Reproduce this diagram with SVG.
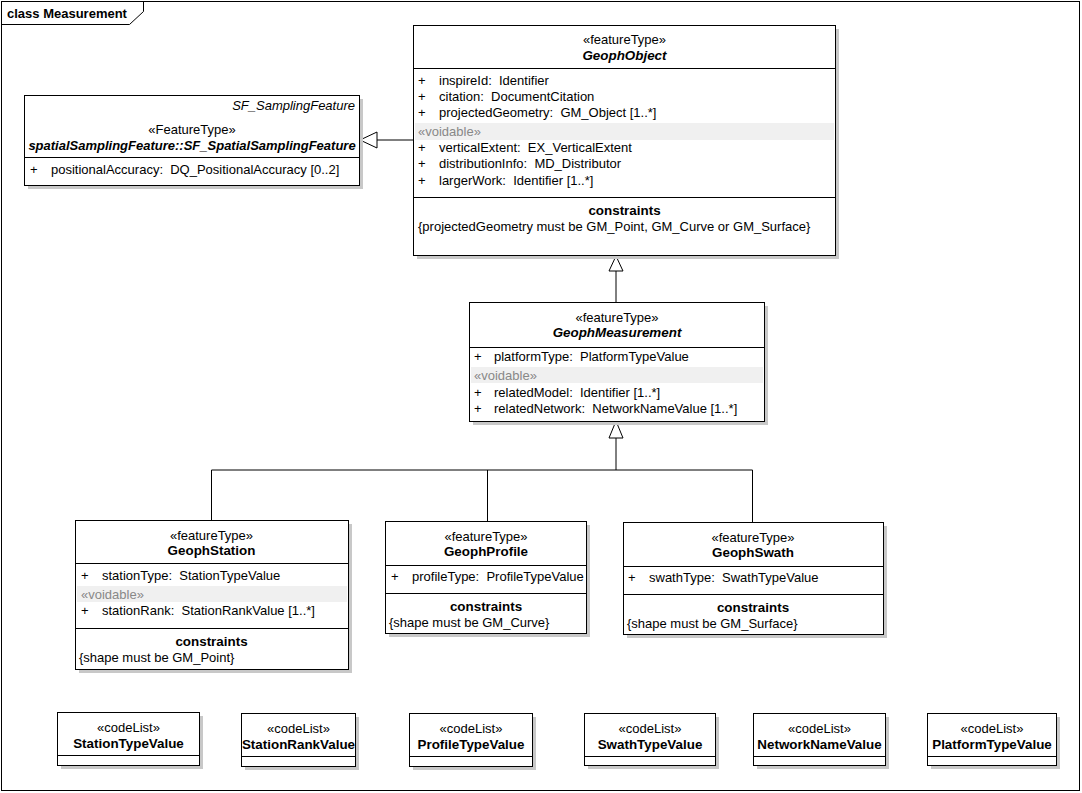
<svg xmlns="http://www.w3.org/2000/svg" width="1082" height="793" viewBox="0 0 1082 793" xml:space="preserve">
<style>
text{font-family:"Liberation Sans",Arial,sans-serif;font-size:13px;fill:#000;white-space:pre}
.c{text-anchor:middle}
.b{font-weight:bold;font-size:13.4px}
.i{font-style:italic}
.g{fill:#888}
.box{fill:#fff;stroke:#000;stroke-width:1}
.sh{fill:#c8c8c8}
.ln{stroke:#000;stroke-width:1;fill:none}
.vb{fill:#f0f0f0}
.tri{fill:#fff;stroke:#000;stroke-width:1}
</style>
<rect x="0" y="0" width="1082" height="793" fill="#fff"/>
<g id="frame">
<rect x="1.5" y="1.5" width="1078" height="789" class="ln"/>
<path d="M1.5,24.5 H129.5 L143.5,11.5 V1.5" class="ln"/>
<text x="7" y="18" style="font-size:13px;font-weight:bold">class Measurement</text>
</g>
<g id="connectors">
<path d="M414,140 H377" class="ln"/>
<polygon points="360,140 377,132 377,148" class="tri"/>
<path d="M616,302 V271" class="ln"/>
<polygon points="616,256 609,271 623,271" class="tri"/>
<path d="M616,470 V438 M211.5,520 V470 H752.5 V522 M487.5,470 V521" class="ln"/>
<polygon points="616,421 609,438 623,438" class="tri"/>
</g>
<g id="SF_SpatialSamplingFeature">
<rect x="28" y="99" width="335" height="90" class="sh"/>
<rect x="24.5" y="95.5" width="335" height="90" class="box"/>
<path d="M24.5,157.5 H359.5" class="ln"/>
<text x="355" y="110" class="i" text-anchor="end">SF_SamplingFeature</text>
<text x="192" y="134" class="c">«FeatureType»</text>
<text x="192" y="150" class="c b i" style="font-size:13px">spatialSamplingFeature::SF_SpatialSamplingFeature</text>
<text x="30" y="174">+</text>
<text x="51" y="174">positionalAccuracy:  DQ_PositionalAccuracy [0..2]</text>
</g>
<g id="GeophObject">
<rect x="417" y="29" width="422" height="230" class="sh"/>
<rect x="413.5" y="25.5" width="422" height="230" class="box"/>
<path d="M413.5,68.5 H835.5 M413.5,197.5 H835.5" class="ln"/>
<rect x="415" y="123" width="419" height="17" class="vb"/>
<text x="624.5" y="44" class="c">«featureType»</text>
<text x="624.5" y="60" class="c b i">GeophObject</text>
<text x="418" y="85">+</text><text x="439" y="85">inspireId:  Identifier</text>
<text x="418" y="101">+</text><text x="439" y="101">citation:  DocumentCitation</text>
<text x="418" y="117">+</text><text x="439" y="117">projectedGeometry:  GM_Object [1..*]</text>
<text x="418" y="136" class="g">«voidable»</text>
<text x="418" y="152">+</text><text x="439" y="152">verticalExtent:  EX_VerticalExtent</text>
<text x="418" y="168">+</text><text x="439" y="168">distributionInfo:  MD_Distributor</text>
<text x="418" y="185">+</text><text x="439" y="185">largerWork:  Identifier [1..*]</text>
<text x="624.5" y="215" class="c b">constraints</text>
<text x="418" y="231">{projectedGeometry must be GM_Point, GM_Curve or GM_Surface}</text>
</g>
<g id="GeophMeasurement">
<rect x="473" y="306" width="295" height="119" class="sh"/>
<rect x="469.5" y="302.5" width="295" height="119" class="box"/>
<path d="M469.5,347.5 H764.5" class="ln"/>
<rect x="471" y="367" width="292" height="16" class="vb"/>
<text x="617" y="322" class="c">«featureType»</text>
<text x="617" y="337" class="c b i">GeophMeasurement</text>
<text x="474" y="361">+</text><text x="494" y="361">platformType:  PlatformTypeValue</text>
<text x="474" y="380" class="g">«voidable»</text>
<text x="474" y="397">+</text><text x="494" y="397">relatedModel:  Identifier [1..*]</text>
<text x="474" y="413">+</text><text x="494" y="413">relatedNetwork:  NetworkNameValue [1..*]</text>
</g>
<g id="GeophStation">
<rect x="79" y="524" width="273" height="149" class="sh"/>
<rect x="75.5" y="520.5" width="273" height="149" class="box"/>
<path d="M75.5,563.5 H348.5 M75.5,628.5 H348.5" class="ln"/>
<rect x="77" y="586" width="270" height="16" class="vb"/>
<text x="211.5" y="540" class="c">«featureType»</text>
<text x="211.5" y="555" class="c b">GeophStation</text>
<text x="81" y="580">+</text><text x="102" y="580">stationType:  StationTypeValue</text>
<text x="81" y="599" class="g">«voidable»</text>
<text x="81" y="615">+</text><text x="102" y="615">stationRank:  StationRankValue [1..*]</text>
<text x="211.5" y="646" class="c b">constraints</text>
<text x="79" y="662">{shape must be GM_Point}</text>
</g>
<g id="GeophProfile">
<rect x="389" y="525" width="201" height="112" class="sh"/>
<rect x="385.5" y="521.5" width="201" height="112" class="box"/>
<path d="M385.5,565.5 H586.5 M385.5,593.5 H586.5" class="ln"/>
<text x="486" y="541" class="c">«featureType»</text>
<text x="486" y="556" class="c b">GeophProfile</text>
<text x="391" y="581">+</text><text x="412" y="581">profileType:  ProfileTypeValue</text>
<text x="486" y="611" class="c b">constraints</text>
<text x="389" y="627">{shape must be GM_Curve}</text>
</g>
<g id="GeophSwath">
<rect x="627" y="526" width="260" height="112" class="sh"/>
<rect x="623.5" y="522.5" width="260" height="112" class="box"/>
<path d="M623.5,566.5 H883.5 M623.5,594.5 H883.5" class="ln"/>
<text x="753" y="542" class="c">«featureType»</text>
<text x="753" y="557" class="c b">GeophSwath</text>
<text x="628" y="582">+</text><text x="649" y="582">swathType:  SwathTypeValue</text>
<text x="753" y="612" class="c b">constraints</text>
<text x="627" y="628">{shape must be GM_Surface}</text>
</g>
<g id="StationTypeValue">
<rect x="61" y="716" width="142" height="53" class="sh"/>
<rect x="57.5" y="712.5" width="142" height="53" class="box"/>
<path d="M57.5,755.5 H199.5" class="ln"/>
<text x="128.5" y="732" class="c">«codeList»</text>
<text x="128.5" y="748" class="c b">StationTypeValue</text>
</g>
<g id="StationRankValue">
<rect x="245" y="717" width="114" height="53" class="sh"/>
<rect x="241.5" y="713.5" width="114" height="53" class="box"/>
<path d="M241.5,756.5 H355.5" class="ln"/>
<text x="298.5" y="733" class="c">«codeList»</text>
<text x="298.5" y="749" class="c b">StationRankValue</text>
</g>
<g id="ProfileTypeValue">
<rect x="413" y="717" width="123" height="53" class="sh"/>
<rect x="409.5" y="713.5" width="123" height="53" class="box"/>
<path d="M409.5,756.5 H532.5" class="ln"/>
<text x="471" y="733" class="c">«codeList»</text>
<text x="471" y="749" class="c b">ProfileTypeValue</text>
</g>
<g id="SwathTypeValue">
<rect x="588" y="717" width="131" height="52" class="sh"/>
<rect x="584.5" y="713.5" width="131" height="52" class="box"/>
<path d="M584.5,756.5 H715.5" class="ln"/>
<text x="650" y="733" class="c">«codeList»</text>
<text x="650" y="749" class="c b">SwathTypeValue</text>
</g>
<g id="NetworkNameValue">
<rect x="757" y="717" width="132" height="52" class="sh"/>
<rect x="753.5" y="713.5" width="132" height="52" class="box"/>
<path d="M753.5,756.5 H885.5" class="ln"/>
<text x="819.5" y="733" class="c">«codeList»</text>
<text x="819.5" y="749" class="c b">NetworkNameValue</text>
</g>
<g id="PlatformTypeValue">
<rect x="931" y="717" width="129" height="52" class="sh"/>
<rect x="927.5" y="713.5" width="129" height="52" class="box"/>
<path d="M927.5,756.5 H1056.5" class="ln"/>
<text x="992" y="733" class="c">«codeList»</text>
<text x="992" y="749" class="c b">PlatformTypeValue</text>
</g>
</svg>
